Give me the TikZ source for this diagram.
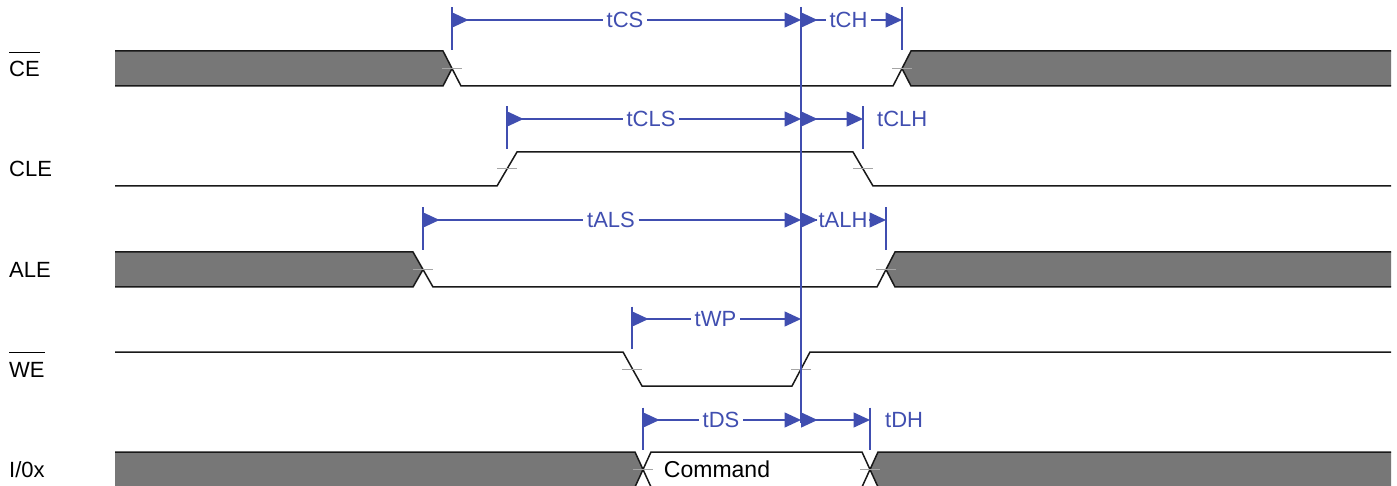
\documentclass[tikz,border=0pt]{standalone}
\usepackage{fontspec}
\setmainfont{Liberation Sans}
\usetikzlibrary{arrows.meta}
\definecolor{dimblue}{RGB}{64,78,176}
\definecolor{busgray}{RGB}{119,119,119}
\definecolor{tickgray}{RGB}{165,165,165}
\definecolor{sigblack}{RGB}{25,25,25}
\newcommand\barred[1]{\setbox0=\hbox{#1}\vbox{\hrule width\wd0 height 1.4pt\kern 8.5pt\box0}}
\begin{document}
\begin{tikzpicture}[x=1pt,y=-1pt,
  sig/.style={draw=sigblack, line width=1.5pt, line join=miter},
  busfill/.style={fill=busgray},
  tickmark/.style={draw=tickgray, line width=1pt},
  dim/.style={draw=dimblue, line width=1.4pt},
  ext/.style={draw=dimblue, line width=1.4pt},
  startarr/.style={dim, {Triangle[reversed,length=16.5pt,width=15pt]}-},
  endarr/.style={dim, -{Triangle[length=16.5pt,width=15pt]}},
  botharr/.style={dim, {Triangle[reversed,length=16.5pt,width=15pt]}-{Triangle[length=16.5pt,width=15pt]}},
  siglabel/.style={anchor=base west, inner sep=0pt, font=\fontsize{22}{26}\selectfont},
  dimlabel/.style={text=dimblue, inner xsep=3.5pt, inner ysep=0pt, font=\fontsize{22}{26}\selectfont},
]
\fill[white] (0,0) rectangle (1397,486);
\useasboundingbox (0,0) rectangle (1397,486);

% ---------- signal labels ----------
\node[siglabel] (lce)  at (9,77)  {\barred{CE}};
\node[siglabel] (lcle) at (9,177) {CLE};
\node[siglabel] (lale) at (9,277) {ALE};
\node[siglabel] (lwe)  at (9,377) {\barred{WE}};
\node[siglabel] (lio)  at (9,477) {I/0x};

% ---------- CE ----------
\fill[busfill] (115,51) -- (443,51) -- (452,68.5) -- (443,86) -- (115,86) -- cycle;
\fill[busfill] (902,68.5) -- (911,51) -- (1391,51) -- (1391,86) -- (911,86) -- cycle;
\draw[sig] (115,51) -- (443,51) -- (461,86) -- (893,86) -- (911,51) -- (1391,51);
\draw[sig] (115,86) -- (443,86) -- (452,68.5);
\draw[sig] (902,68.5) -- (911,86) -- (1391,86);
\draw[tickmark] (442,68.5) -- (462,68.5);
\draw[tickmark] (892,68.5) -- (912,68.5);

% ---------- CLE ----------
\draw[sig] (115,186) -- (497,186) -- (517,152) -- (853,152) -- (873,186) -- (1391,186);
\draw[tickmark] (497,169) -- (517,169);
\draw[tickmark] (853,169) -- (873,169);

% ---------- ALE ----------
\fill[busfill] (115,252) -- (413,252) -- (423,269.5) -- (413,287) -- (115,287) -- cycle;
\fill[busfill] (886,269.5) -- (895,252) -- (1391,252) -- (1391,287) -- (895,287) -- cycle;
\draw[sig] (115,252) -- (413,252) -- (433,287) -- (877,287) -- (895,252) -- (1391,252);
\draw[sig] (115,287) -- (413,287) -- (423,269.5);
\draw[sig] (886,269.5) -- (895,287) -- (1391,287);
\draw[tickmark] (413,269.5) -- (433,269.5);
\draw[tickmark] (876,269.5) -- (896,269.5);

% ---------- WE ----------
\draw[sig] (115,352) -- (623,352) -- (642,386) -- (792,386) -- (810,352) -- (1391,352);
\draw[tickmark] (622,369) -- (642,369);
\draw[tickmark] (791,369) -- (811,369);

% ---------- I/O ----------
\fill[busfill] (115,452) -- (635,452) -- (643,469.5) -- (635,487) -- (115,487) -- cycle;
\fill[busfill] (870,469.5) -- (878,452) -- (1391,452) -- (1391,487) -- (878,487) -- cycle;
\draw[sig] (115,452) -- (635,452) -- (651,487) -- (862,487) -- (878,452) -- (1391,452);
\draw[sig] (115,487) -- (635,487) -- (651,452) -- (862,452) -- (878,487) -- (1391,487);
\draw[tickmark] (633,469.5) -- (653,469.5);
\draw[tickmark] (860,469.5) -- (880,469.5);
\node[font=\fontsize{23}{27}\selectfont, inner sep=0pt] (cmd) at (717,469.5) {Command};

% ---------- reference line ----------
\coordinate (reftop) at (801,7);
\coordinate (refbot) at (801,423);
\draw[ext] (reftop) -- (refbot);

% ---------- dimension points ----------
\coordinate (csA)  at (452,20);  \coordinate (csB)  at (801,20);
\coordinate (chB)  at (902,20);
\coordinate (clsA) at (507,119); \coordinate (clsB) at (801,119);
\coordinate (clhB) at (863,119);
\coordinate (alsA) at (423,220); \coordinate (alsB) at (801,220);
\coordinate (alhB) at (886,220);
\coordinate (wpA)  at (632,319); \coordinate (wpB)  at (801,319);
\coordinate (dsA)  at (643,420); \coordinate (dsB)  at (801,420);
\coordinate (dhB)  at (870,420);

% extension bars
\foreach \p in {csA,chB,clsA,clhB,alsA,alhB,wpA,dsA,dhB}
  \draw[ext] (\p) ++(0,-12.5) -- ++(0,42.5);

% ---------- labels ----------
\node[dimlabel] (tcs)  at (625,20)  {tCS};
\node[dimlabel] (tch)  at (848.5,20) {tCH};
\node[dimlabel] (tcls) at (651,119) {tCLS};
\node[dimlabel, anchor=west, inner xsep=0pt] (tclh) at (877,119) {tCLH};
\node[dimlabel] (tals) at (611,220) {tALS};
\node[dimlabel, inner xsep=1pt] (talh) at (843,220) {tALH};
\node[dimlabel] (twp)  at (715.5,319) {tWP};
\node[dimlabel] (tds)  at (721,420) {tDS};
\node[dimlabel, anchor=west, inner xsep=0pt] (tdh) at (885,420) {tDH};

% ---------- dimension arrows ----------
\draw[startarr] (csA) -- (tcs.west);   \draw[endarr] (tcs.east) -- (csB);
\draw[startarr] (csB) -- (tch.west);   \draw[endarr] (tch.east) -- (chB);
\draw[startarr] (clsA) -- (tcls.west); \draw[endarr] (tcls.east) -- (clsB);
\draw[botharr] (clsB) -- (clhB);
\draw[startarr] (alsA) -- (tals.west); \draw[endarr] (tals.east) -- (alsB);
\draw[startarr] (alsB) -- (talh.west); \draw[endarr] (talh.east) -- (alhB);
\draw[startarr] (wpA) -- (twp.west);   \draw[endarr] (twp.east) -- (wpB);
\draw[startarr] (dsA) -- (tds.west);   \draw[endarr] (tds.east) -- (dsB);
\draw[botharr] (dsB) -- (dhB);
\end{tikzpicture}
\end{document}
